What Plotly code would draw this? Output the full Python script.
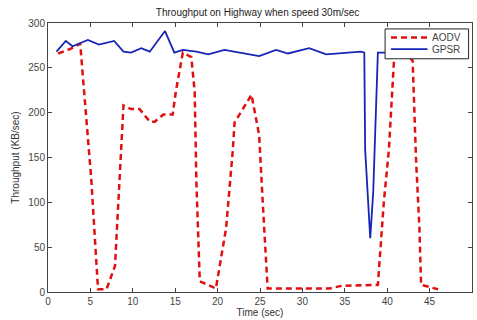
import plotly.graph_objects as go

# GPSR series
gpsr_t = [1.0, 2.1, 2.9, 4.7, 6.0, 7.8, 8.9, 9.8, 11.0, 12.0, 13.8, 14.9, 15.9, 17.5, 18.9, 20.8,
          22.6, 24.9, 26.9, 28.3, 30.8, 32.8, 36.9, 37.3, 37.4, 37.7, 38.0, 38.35, 38.5, 38.7,
          38.9, 39.6, 42.0, 44.0, 46.0]
gpsr_v = [268, 280, 274, 281, 276, 280, 268, 267, 272, 268, 291, 267, 270, 268, 265, 270,
          267, 263, 270, 266, 272, 265, 268, 267, 159, 111, 60, 111, 159, 203,
          267, 267, 268, 267, 268]

# AODV series
aodv_t = [1.2, 2.6, 3.8, 4.9, 5.1, 5.9, 6.9, 7.9, 8.9, 9.8, 10.8, 12.0, 12.6, 13.6, 14.7, 15.1,
          15.9, 16.9, 17.3, 17.5, 17.9, 19.8, 21.0, 21.8, 22.0, 24.0, 24.9, 25.3, 25.9, 33.2, 34.7,
          38.9, 39.6, 40.2, 40.8, 41.3, 43.0, 43.4, 43.8, 44.0, 45.3, 46.0]
aodv_v = [266, 271, 277, 150, 126, 3, 3, 29, 208, 204, 204, 190, 190, 198, 198, 225,
          267, 262, 223, 122, 12, 4, 71, 159, 189, 220, 175, 104, 4, 4, 7,
          8, 100, 159, 258, 275, 258, 148, 71, 8, 5, 3]

series_names = ["AODV", "GPSR"]
series_colors = ["#e01010", "#1525b5"]
series_dash = ["6px,4px", "solid"]
series_width = [2.5, 1.8]

x_ticks = [0, 5, 10, 15, 20, 25, 30, 35, 40, 45, 50]
y_ticks = [0, 50, 100, 150, 200, 250, 300]

FONT = "Liberation Sans, Arial"

fig = go.Figure()
for name, t, v, c, d, w in zip(series_names, [aodv_t, gpsr_t], [aodv_v, gpsr_v],
                               series_colors, series_dash, series_width):
    fig.add_trace(go.Scatter(x=t, y=v, mode="lines", name=name,
                             line=dict(color=c, width=w, dash=d)))

axis_common = dict(showgrid=False, zeroline=False, showline=True, linecolor="#444",
                   linewidth=1, mirror="ticks", ticks="inside", ticklen=4,
                   tickcolor="#444", tickfont=dict(size=10, color="#444", family=FONT))
fig.update_xaxes(range=[0, 50], tickvals=x_ticks, **axis_common,
                 title=dict(text="Time (sec)", standoff=2,
                            font=dict(size=10, color="#333", family=FONT)))
fig.update_yaxes(range=[0, 300], tickvals=y_ticks, **axis_common,
                 title=dict(text="Throughput (KB/sec)", standoff=6,
                            font=dict(size=10, color="#333", family=FONT)))

# MATLAB-style legend box (compact)
shapes = [dict(type="rect", xref="paper", yref="paper", x0=0.795, x1=0.992, y0=0.867, y1=0.978,
               fillcolor="white", line=dict(color="#222", width=1), layer="above")]
annotations = []
row_y = [0.946, 0.903]
for name, c, d, w, ry in zip(series_names, series_colors, series_dash, series_width, row_y):
    shapes.append(dict(type="line", xref="paper", yref="paper", x0=0.809, x1=0.895, y0=ry, y1=ry,
                       line=dict(color=c, width=w, dash=d), layer="above"))
    annotations.append(dict(text=name, xref="paper", yref="paper", x=0.9, y=ry,
                            xanchor="left", yanchor="middle", showarrow=False,
                            font=dict(size=10, color="#444", family=FONT)))

fig.update_layout(
    width=477, height=320,
    margin=dict(l=48, r=4, t=23, b=26),
    paper_bgcolor="white", plot_bgcolor="white",
    title=dict(text="Throughput on Highway when speed 30m/sec", x=0.54, xanchor="center",
               y=0.962, yanchor="middle",
               font=dict(size=10, color="#222", family=FONT)),
    showlegend=False,
    shapes=shapes,
    annotations=annotations,
)

fig.write_html("out.html")
